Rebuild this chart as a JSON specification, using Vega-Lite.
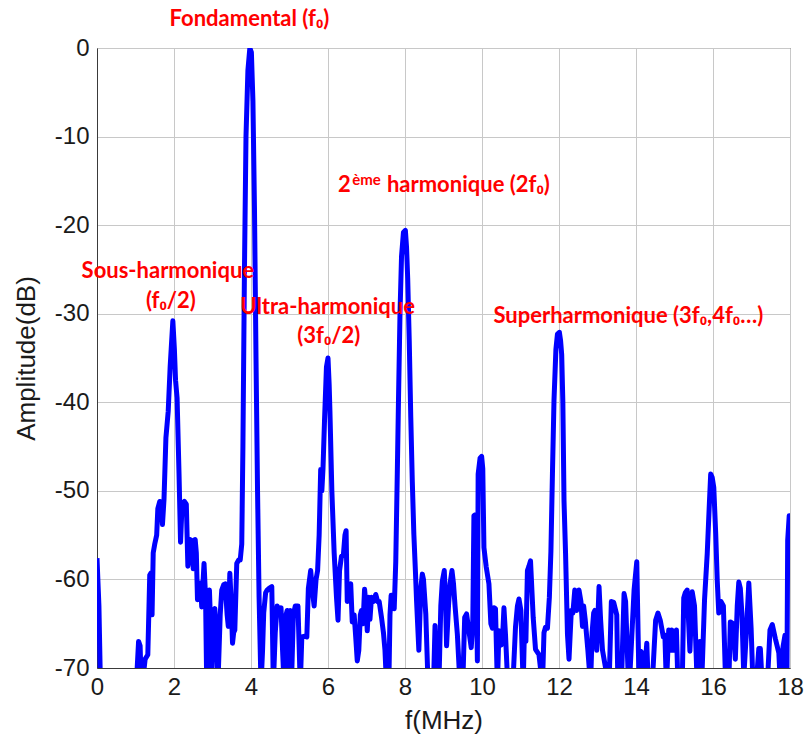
{
  "$schema": "https://vega.github.io/schema/vega-lite/v6.json",
  "width": 693,
  "height": 620,
  "autosize": {"type": "none"},
  "padding": {"left": 97, "top": 48, "right": 17, "bottom": 72},
  "background": "white",
  "config": {"view": {"stroke": "#3a3a3a", "strokeWidth": 1}},
  "datasets": {
    "spectrum": [
      {"f":0.00,"A":-57.6},{"f":0.05,"A":-63},{"f":0.09,"A":-72},{"f":0.5,"A":-85},{"f":1.02,"A":-72},{"f":1.08,"A":-67},{"f":1.12,"A":-67.5},{"f":1.15,"A":-72},{"f":1.2,"A":-71},{"f":1.25,"A":-69},{"f":1.32,"A":-68.5},{"f":1.37,"A":-59.5},{"f":1.40,"A":-59.3},{"f":1.43,"A":-64},{"f":1.46,"A":-57},{"f":1.50,"A":-56},{"f":1.55,"A":-55},{"f":1.58,"A":-52},{"f":1.63,"A":-51.2},{"f":1.67,"A":-51.3},{"f":1.70,"A":-53.8},{"f":1.74,"A":-51},{"f":1.79,"A":-44},{"f":1.85,"A":-41},{"f":1.90,"A":-36},{"f":1.97,"A":-30.8},{"f":2.01,"A":-34},{"f":2.04,"A":-37.5},{"f":2.08,"A":-39.5},{"f":2.13,"A":-48},{"f":2.17,"A":-55.8},{"f":2.21,"A":-51.5},{"f":2.27,"A":-51.2},{"f":2.32,"A":-51.5},{"f":2.36,"A":-58.5},{"f":2.42,"A":-55.5},{"f":2.46,"A":-55.6},{"f":2.50,"A":-58.8},{"f":2.55,"A":-55.5},{"f":2.58,"A":-57},{"f":2.61,"A":-62.3},{"f":2.65,"A":-60.5},{"f":2.69,"A":-60.4},{"f":2.72,"A":-63.1},{"f":2.78,"A":-58.2},{"f":2.82,"A":-62},{"f":2.85,"A":-72},{"f":2.88,"A":-65},{"f":2.92,"A":-61.2},{"f":2.95,"A":-65},{"f":2.98,"A":-71},{"f":3.03,"A":-63.5},{"f":3.06,"A":-63.3},{"f":3.10,"A":-66},{"f":3.14,"A":-72},{"f":3.20,"A":-64},{"f":3.24,"A":-61.2},{"f":3.29,"A":-60.6},{"f":3.33,"A":-60.5},{"f":3.38,"A":-64},{"f":3.41,"A":-65.3},{"f":3.45,"A":-59.3},{"f":3.48,"A":-62},{"f":3.52,"A":-67.2},{"f":3.55,"A":-66},{"f":3.58,"A":-65.7},{"f":3.63,"A":-58.2},{"f":3.68,"A":-57.8},{"f":3.72,"A":-57.8},{"f":3.76,"A":-56},{"f":3.79,"A":-45},{"f":3.83,"A":-25},{"f":3.87,"A":-10},{"f":3.92,"A":-2.5},{"f":3.97,"A":0},{"f":4.01,"A":-0.5},{"f":4.05,"A":-6},{"f":4.09,"A":-18},{"f":4.13,"A":-35},{"f":4.17,"A":-50},{"f":4.21,"A":-62},{"f":4.26,"A":-72},
      {"f":4.30,"A":-68},{"f":4.33,"A":-63.8},{"f":4.38,"A":-61.5},{"f":4.42,"A":-61.2},{"f":4.47,"A":-61},{"f":4.54,"A":-60.8},{"f":4.58,"A":-72},{"f":4.63,"A":-66},{"f":4.68,"A":-63},{"f":4.73,"A":-63.5},{"f":4.78,"A":-63.2},{"f":4.82,"A":-68},{"f":4.86,"A":-72},{"f":4.91,"A":-64},{"f":4.94,"A":-63.5},{"f":4.98,"A":-72},{"f":5.02,"A":-63.5},{"f":5.05,"A":-72},{"f":5.10,"A":-64},{"f":5.15,"A":-63},{"f":5.22,"A":-63},{"f":5.28,"A":-72},{"f":5.32,"A":-66.5},{"f":5.40,"A":-66.4},{"f":5.45,"A":-66.5},{"f":5.49,"A":-61},{"f":5.55,"A":-59},{"f":5.60,"A":-61.5},{"f":5.64,"A":-63},{"f":5.69,"A":-60},{"f":5.73,"A":-59},{"f":5.77,"A":-55},{"f":5.81,"A":-47.6},{"f":5.84,"A":-50},{"f":5.87,"A":-47.5},{"f":5.91,"A":-42},{"f":5.96,"A":-36},{"f":6.00,"A":-35},{"f":6.03,"A":-38},{"f":6.05,"A":-41},{"f":6.10,"A":-50},{"f":6.16,"A":-57},{"f":6.22,"A":-62},{"f":6.26,"A":-64.6},{"f":6.30,"A":-59},{"f":6.35,"A":-57.4},{"f":6.40,"A":-57.2},{"f":6.44,"A":-55},{"f":6.47,"A":-54.5},{"f":6.50,"A":-62.5},{"f":6.55,"A":-61},{"f":6.59,"A":-60.5},{"f":6.63,"A":-64.8},{"f":6.68,"A":-64},{"f":6.72,"A":-66.5},{"f":6.76,"A":-69.2},{"f":6.80,"A":-68},{"f":6.84,"A":-64},{"f":6.87,"A":-63.5},{"f":6.91,"A":-65},{"f":6.95,"A":-61.1},{"f":6.99,"A":-63},{"f":7.02,"A":-65.8},{"f":7.06,"A":-62},{"f":7.09,"A":-64.5},{"f":7.13,"A":-62},{"f":7.18,"A":-62.5},{"f":7.24,"A":-61.7},{"f":7.29,"A":-62.5},{"f":7.33,"A":-62.5},{"f":7.39,"A":-64.3},{"f":7.44,"A":-66},{"f":7.48,"A":-68},{"f":7.52,"A":-72},{"f":7.58,"A":-72},{"f":7.61,"A":-64},{"f":7.64,"A":-61.8},{"f":7.68,"A":-61.8},{"f":7.72,"A":-63.3},{"f":7.76,"A":-58},{"f":7.80,"A":-48},{"f":7.83,"A":-40},{"f":7.87,"A":-30},{"f":7.91,"A":-23.5},{"f":7.96,"A":-20.8},{"f":8.01,"A":-20.6},{"f":8.04,"A":-22.5},{"f":8.07,"A":-26},{"f":8.11,"A":-33},{"f":8.15,"A":-41.7},{"f":8.19,"A":-49},{"f":8.23,"A":-54.9},{"f":8.27,"A":-59},{"f":8.30,"A":-62.4},{"f":8.36,"A":-68},{"f":8.41,"A":-61},{"f":8.45,"A":-59.4},{"f":8.48,"A":-60},{"f":8.54,"A":-63.9},{"f":8.60,"A":-72},{"f":8.74,"A":-72},{"f":8.78,"A":-65.2},{"f":8.82,"A":-72},{"f":8.88,"A":-72},{"f":8.93,"A":-63},{"f":8.97,"A":-60.2},{"f":9.02,"A":-59},{"f":9.05,"A":-62},{"f":9.08,"A":-67.5},{"f":9.13,"A":-63},{"f":9.17,"A":-60.5},{"f":9.22,"A":-59},{"f":9.26,"A":-60.5},{"f":9.30,"A":-63},{"f":9.36,"A":-66.2},{"f":9.43,"A":-72},{"f":9.50,"A":-72},{"f":9.55,"A":-64.3},{"f":9.60,"A":-63.9},{"f":9.65,"A":-65.5},{"f":9.72,"A":-67.7},{"f":9.76,"A":-65},{"f":9.79,"A":-52.8},{"f":9.83,"A":-52.7},{"f":9.88,"A":-69.2},{"f":9.90,"A":-48.1},{"f":9.95,"A":-46.3},{"f":9.99,"A":-46.1},{"f":10.02,"A":-47.5},{"f":10.05,"A":-56.4},{"f":10.11,"A":-58.6},{"f":10.18,"A":-60.5},{"f":10.23,"A":-65},{"f":10.27,"A":-65.5},{"f":10.31,"A":-63.2},{"f":10.35,"A":-63.3},{"f":10.40,"A":-72},{"f":10.44,"A":-65.8},{"f":10.50,"A":-67.4},{"f":10.54,"A":-66},{"f":10.57,"A":-63.2},{"f":10.61,"A":-66.2},{"f":10.66,"A":-71},{"f":10.72,"A":-72},{"f":10.80,"A":-72},{"f":10.87,"A":-65.4},{"f":10.92,"A":-63},{"f":10.96,"A":-62.2},{"f":11.01,"A":-63.5},{"f":11.07,"A":-72},{"f":11.10,"A":-66.2},{"f":11.14,"A":-67},{"f":11.18,"A":-59},{"f":11.22,"A":-58.5},{"f":11.26,"A":-57.9},{"f":11.33,"A":-64.3},{"f":11.39,"A":-67.9},{"f":11.48,"A":-68.5},{"f":11.57,"A":-72},{"f":11.61,"A":-66},{"f":11.65,"A":-65.4},{"f":11.70,"A":-65.5},{"f":11.75,"A":-62},{"f":11.79,"A":-56.8},{"f":11.83,"A":-48},{"f":11.87,"A":-39.8},{"f":11.92,"A":-34},{"f":11.96,"A":-32.3},{"f":12.01,"A":-32.1},{"f":12.04,"A":-33},{"f":12.07,"A":-34.6},{"f":12.10,"A":-40},{"f":12.13,"A":-51.1},{"f":12.17,"A":-57},{"f":12.22,"A":-66.2},{"f":12.26,"A":-69},{"f":12.32,"A":-63.5},{"f":12.36,"A":-63.8},{"f":12.41,"A":-61.2},{"f":12.46,"A":-63.5},{"f":12.52,"A":-61.2},{"f":12.57,"A":-62.5},{"f":12.61,"A":-65.3},{"f":12.64,"A":-63},{"f":12.68,"A":-64.5},{"f":12.75,"A":-68},{"f":12.82,"A":-72},{"f":12.86,"A":-66},{"f":12.90,"A":-63.8},{"f":12.93,"A":-63.5},{"f":12.98,"A":-68},{"f":13.04,"A":-60.8},{"f":13.08,"A":-64.5},{"f":13.13,"A":-68},{"f":13.21,"A":-70},{"f":13.30,"A":-72},{"f":13.36,"A":-62.5},{"f":13.42,"A":-62.6},{"f":13.50,"A":-64},{"f":13.53,"A":-72},{"f":13.62,"A":-72},{"f":13.69,"A":-61.6},{"f":13.73,"A":-62.5},{"f":13.79,"A":-70},{"f":13.85,"A":-70},{"f":13.95,"A":-61.2},{"f":14.02,"A":-58},{"f":14.08,"A":-72},{"f":14.12,"A":-68.1},{"f":14.16,"A":-68.3},{"f":14.20,"A":-72},{"f":14.28,"A":-67.2},{"f":14.32,"A":-72},{"f":14.42,"A":-72},{"f":14.51,"A":-64.6},{"f":14.57,"A":-63.8},{"f":14.63,"A":-64.6},{"f":14.71,"A":-66.5},{"f":14.75,"A":-66.3},{"f":14.79,"A":-72},{"f":14.85,"A":-65.7},{"f":14.89,"A":-68},{"f":14.93,"A":-65.7},{"f":14.97,"A":-68},{"f":15.05,"A":-65.7},{"f":15.09,"A":-72},{"f":15.20,"A":-72},{"f":15.24,"A":-62.1},{"f":15.28,"A":-61.5},{"f":15.33,"A":-61.2},{"f":15.40,"A":-68.1},{"f":15.46,"A":-61.4},{"f":15.52,"A":-63},{"f":15.59,"A":-72},{"f":15.66,"A":-67},{"f":15.72,"A":-70},{"f":15.78,"A":-62.3},{"f":15.85,"A":-57.1},{"f":15.90,"A":-52},{"f":15.94,"A":-48.1},{"f":15.98,"A":-48.5},{"f":16.02,"A":-49.6},{"f":16.07,"A":-54.8},{"f":16.11,"A":-60.1},{"f":16.15,"A":-63.8},{"f":16.21,"A":-62.5},{"f":16.27,"A":-63},{"f":16.33,"A":-72},{"f":16.41,"A":-72},{"f":16.45,"A":-64.8},{"f":16.52,"A":-65},{"f":16.58,"A":-69},{"f":16.63,"A":-63},{"f":16.67,"A":-60.3},{"f":16.71,"A":-61},{"f":16.75,"A":-63.8},{"f":16.80,"A":-71},{"f":16.86,"A":-66.5},{"f":16.93,"A":-60.4},{"f":16.99,"A":-65.5},{"f":17.04,"A":-72},{"f":17.12,"A":-72},{"f":17.19,"A":-67.8},{"f":17.23,"A":-67.8},{"f":17.28,"A":-72},{"f":17.41,"A":-72},{"f":17.48,"A":-65.7},{"f":17.54,"A":-65.1},{"f":17.62,"A":-66.7},{"f":17.71,"A":-68.3},{"f":17.75,"A":-72},{"f":17.82,"A":-67.6},{"f":17.87,"A":-66.3},{"f":17.92,"A":-71},{"f":17.94,"A":-55.6},{"f":17.98,"A":-52.8},{"f":18.00,"A":-57.5}
    ],
    "labels": [
      {"t":"Fondamental (f₀)","f":3.96,"A":2.5,"kind":"c"},
      {"t":"Sous-harmonique","f":1.84,"A":-26.0,"kind":"c"},
      {"t":"(f₀/2)","f":1.92,"A":-29.4,"kind":"c"},
      {"t":"Ultra-harmonique","f":5.99,"A":-30.0,"kind":"c"},
      {"t":"(3f₀/2)","f":6.02,"A":-33.3,"kind":"c"},
      {"t":"Superharmonique (3f₀,4f₀…)","f":13.8,"A":-31.0,"kind":"c"},
      {"t":"2","f":6.26,"A":-16.3,"kind":"l"},
      {"t":"harmonique (2f₀)","f":7.53,"A":-16.3,"kind":"l"},
      {"t":"ème","f":6.63,"A":-15.5,"kind":"s"}
    ]
  },
  "layer": [
    {
      "data": {"name": "spectrum"},
      "mark": {"type": "line", "color": "#0000ff", "strokeWidth": 5, "clip": true, "strokeJoin": "round"},
      "encoding": {
        "x": {
          "field": "f", "type": "quantitative",
          "scale": {"domain": [0, 18], "nice": false, "zero": false},
          "axis": {
            "values": [0, 2, 4, 6, 8, 10, 12, 14, 16, 18],
            "title": "f(MHz)",
            "labelFont": "Liberation Sans", "labelFontSize": 24, "labelColor": "#1a1a1a",
            "labelFlush": false, "labelOverlap": false, "labelPadding": 7,
            "titleFont": "Liberation Sans", "titleFontSize": 26, "titleFontWeight": "normal", "titleColor": "#1a1a1a",
            "titleY": 60, "titleBaseline": "alphabetic",
            "grid": true, "gridColor": "#c8c8c8", "gridWidth": 1,
            "ticks": false, "domainColor": "#3a3a3a"
          }
        },
        "y": {
          "field": "A", "type": "quantitative",
          "scale": {"domain": [-70, 0], "nice": false, "zero": false},
          "axis": {
            "values": [-70, -60, -50, -40, -30, -20, -10, 0],
            "labelExpr": "'' + datum.value",
            "title": "Amplitude(dB)",
            "labelFont": "Liberation Sans", "labelFontSize": 24, "labelColor": "#1a1a1a",
            "labelPadding": 8, "labelOverlap": false,
            "titleFont": "Liberation Sans", "titleFontSize": 26, "titleFontWeight": "normal", "titleColor": "#1a1a1a",
            "titleX": -63, "titleBaseline": "alphabetic",
            "grid": true, "gridColor": "#c8c8c8", "gridWidth": 1,
            "ticks": false, "domainColor": "#3a3a3a"
          }
        }
      }
    },
    {
      "data": {"name": "labels"},
      "transform": [{"filter": "datum.kind == 'c'"}],
      "mark": {"type": "text", "font": "Lato", "fontWeight": "bold", "fontSize": 22, "color": "#ff0000", "align": "center", "baseline": "alphabetic"},
      "encoding": {
        "x": {"field": "f", "type": "quantitative", "scale": {"domain": [0, 18], "nice": false, "zero": false}},
        "y": {"field": "A", "type": "quantitative", "scale": {"domain": [-70, 0], "nice": false, "zero": false}},
        "text": {"field": "t"}
      }
    },
    {
      "data": {"name": "labels"},
      "transform": [{"filter": "datum.kind == 'l'"}],
      "mark": {"type": "text", "font": "Lato", "fontWeight": "bold", "fontSize": 22, "color": "#ff0000", "align": "left", "baseline": "alphabetic"},
      "encoding": {
        "x": {"field": "f", "type": "quantitative", "scale": {"domain": [0, 18], "nice": false, "zero": false}},
        "y": {"field": "A", "type": "quantitative", "scale": {"domain": [-70, 0], "nice": false, "zero": false}},
        "text": {"field": "t"}
      }
    },
    {
      "data": {"name": "labels"},
      "transform": [{"filter": "datum.kind == 's'"}],
      "mark": {"type": "text", "font": "Lato", "fontWeight": "bold", "fontSize": 15, "color": "#ff0000", "align": "left", "baseline": "alphabetic"},
      "encoding": {
        "x": {"field": "f", "type": "quantitative", "scale": {"domain": [0, 18], "nice": false, "zero": false}},
        "y": {"field": "A", "type": "quantitative", "scale": {"domain": [-70, 0], "nice": false, "zero": false}},
        "text": {"field": "t"}
      }
    }
  ]
}
